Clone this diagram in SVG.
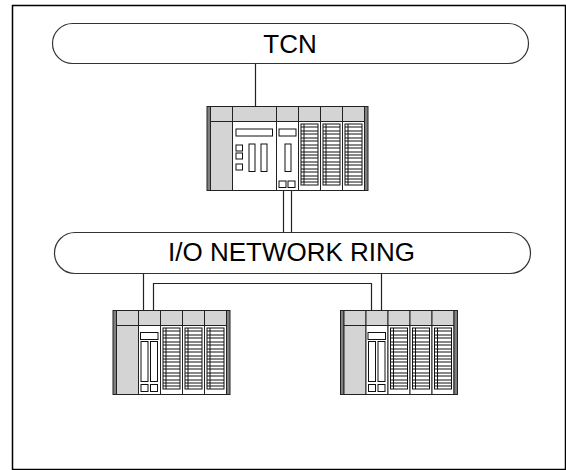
<svg xmlns="http://www.w3.org/2000/svg" xmlns:xlink="http://www.w3.org/1999/xlink" width="566" height="470" viewBox="0 0 566 470">
  <style>
    .frame { fill: #ffffff; stroke: #000000; stroke-width: 1.5; }
    .bus { fill: #ffffff; stroke: #333333; stroke-width: 1.2; }
    .label { font-family: "Liberation Sans", Arial, sans-serif; font-size: 26px; fill: #000000; text-anchor: middle; }
    .hdr { fill: #d4d4d4; stroke: #222222; stroke-width: 1; }
    .body { fill: #ffffff; stroke: #222222; stroke-width: 1; }
    .psu { fill: #d4d4d4; stroke: #222222; stroke-width: 1; }
    .cap { fill: #808080; stroke: #222222; stroke-width: 1; }
    .part { fill: #ffffff; stroke: #111111; stroke-width: 1; }
    .rows { fill: none; stroke: #111111; stroke-width: 1; }
    .wire { fill: none; stroke: #222222; stroke-width: 1.2; }
  </style>
  <defs>
    <!-- rack end cap -->
    <g id="end-cap">
      <rect x="0" y="0" width="3.5" height="84" class="cap"/>
    </g>
    <!-- power supply slot -->
    <g id="slot-psu">
      <rect x="0" y="0" width="22" height="84" class="psu"/>
      <line x1="0" y1="15" x2="22" y2="15" stroke="#222222"/>
    </g>
    <!-- digital I/O slot with terminal rows -->
    <g id="slot-io">
      <rect x="0" y="0" width="22" height="15" class="hdr"/>
      <rect x="0" y="15" width="22" height="69" class="body"/>
      <rect x="2.5" y="17.5" width="17" height="61" class="part"/>
      <line x1="5.5" y1="17.5" x2="5.5" y2="78.5" stroke="#111111"/>
      <path class="rows" d="M2.5 20.5h17M2.5 24.5h17M2.5 27.5h17M2.5 31.5h17M2.5 34.5h17M2.5 38.5h17M2.5 41.5h17M2.5 45.5h17M2.5 48.5h17M2.5 51.5h17M2.5 55.5h17M2.5 58.5h17M2.5 62.5h17M2.5 65.5h17M2.5 69.5h17M2.5 72.5h17M2.5 75.5h17"/>
    </g>
    <!-- double-width CPU slot -->
    <g id="slot-cpu">
      <rect x="0" y="0" width="44" height="15" class="hdr"/>
      <rect x="0" y="15" width="44" height="69" class="body"/>
      <rect x="3.5" y="22.5" width="36.5" height="7" class="part"/>
      <rect x="3.5" y="38.5" width="6.5" height="6" class="part"/>
      <rect x="3.5" y="46.5" width="6.5" height="6" class="part"/>
      <rect x="3.5" y="57.5" width="6.5" height="6" class="part"/>
      <rect x="16.5" y="37.5" width="6" height="27.5" class="part"/>
      <rect x="28.5" y="37.5" width="6" height="27.5" class="part"/>
    </g>
    <!-- communication slot of the main rack -->
    <g id="slot-com">
      <rect x="0" y="0" width="22" height="15" class="hdr"/>
      <rect x="0" y="15" width="22" height="69" class="body"/>
      <rect x="2.5" y="22.5" width="17" height="7" class="part"/>
      <rect x="8.5" y="37.5" width="6" height="27.5" class="part"/>
      <rect x="2.5" y="74.5" width="7" height="6.5" class="part"/>
      <rect x="11.5" y="74.5" width="7" height="6.5" class="part"/>
    </g>
    <!-- ring adapter slot of the remote racks -->
    <g id="slot-ring">
      <rect x="0" y="0" width="22" height="15" class="hdr"/>
      <rect x="0" y="15" width="22" height="69" class="body"/>
      <rect x="2" y="22" width="17.5" height="7" class="part"/>
      <rect x="2.5" y="31" width="7" height="40" class="part"/>
      <rect x="12" y="31" width="7" height="40" class="part"/>
      <rect x="2.5" y="74" width="7" height="7" class="part"/>
      <rect x="12" y="74" width="7" height="7" class="part"/>
    </g>
    <!-- remote rack: PSU, ring adapter, three I/O -->
    <g id="remote-rack">
      <use xlink:href="#end-cap" x="0" y="0"/>
      <use xlink:href="#slot-psu" x="3.5" y="0"/>
      <use xlink:href="#slot-ring" x="25.5" y="0"/>
      <use xlink:href="#slot-io" x="47.5" y="0"/>
      <use xlink:href="#slot-io" x="69.5" y="0"/>
      <use xlink:href="#slot-io" x="91.5" y="0"/>
      <use xlink:href="#end-cap" x="113.5" y="0"/>
    </g>
  </defs>

  <rect x="12.5" y="5.5" width="553" height="464" class="frame"/>

  <g id="tcn">
    <rect x="52.5" y="23.5" width="476" height="40" rx="20" ry="20" class="bus"/>
    <text x="290" y="53" class="label">TCN</text>
  </g>

  <g id="io-ring">
    <rect x="54.5" y="232.5" width="476" height="41" rx="20.5" ry="20.5" class="bus"/>
    <text x="291.5" y="261" class="label">I/O NETWORK RING</text>
  </g>

  <g id="connectors">
    <line x1="255.5" y1="63.5" x2="255.5" y2="106.5" class="wire"/>
    <line x1="283.5" y1="190.5" x2="283.5" y2="232.5" class="wire"/>
    <line x1="291.5" y1="190.5" x2="291.5" y2="232.5" class="wire"/>
    <line x1="143.5" y1="273.5" x2="143.5" y2="310.5" class="wire"/>
    <line x1="381.5" y1="273.5" x2="381.5" y2="310.5" class="wire"/>
    <polyline points="153.5,310.5 153.5,283.5 371.5,283.5 371.5,310.5" class="wire"/>
  </g>

  <g id="main-rack" transform="translate(207,106.5)">
    <use xlink:href="#end-cap" x="0" y="0"/>
    <use xlink:href="#slot-psu" x="3.5" y="0"/>
    <use xlink:href="#slot-cpu" x="25.5" y="0"/>
    <use xlink:href="#slot-com" x="69.5" y="0"/>
    <use xlink:href="#slot-io" x="91.5" y="0"/>
    <use xlink:href="#slot-io" x="113.5" y="0"/>
    <use xlink:href="#slot-io" x="135.5" y="0"/>
    <use xlink:href="#end-cap" x="157.5" y="0"/>
  </g>

  <g id="remote-rack-left" transform="translate(113,310.5)">
    <use xlink:href="#remote-rack"/>
  </g>

  <g id="remote-rack-right" transform="translate(340.5,310.5)">
    <use xlink:href="#remote-rack"/>
  </g>
</svg>
